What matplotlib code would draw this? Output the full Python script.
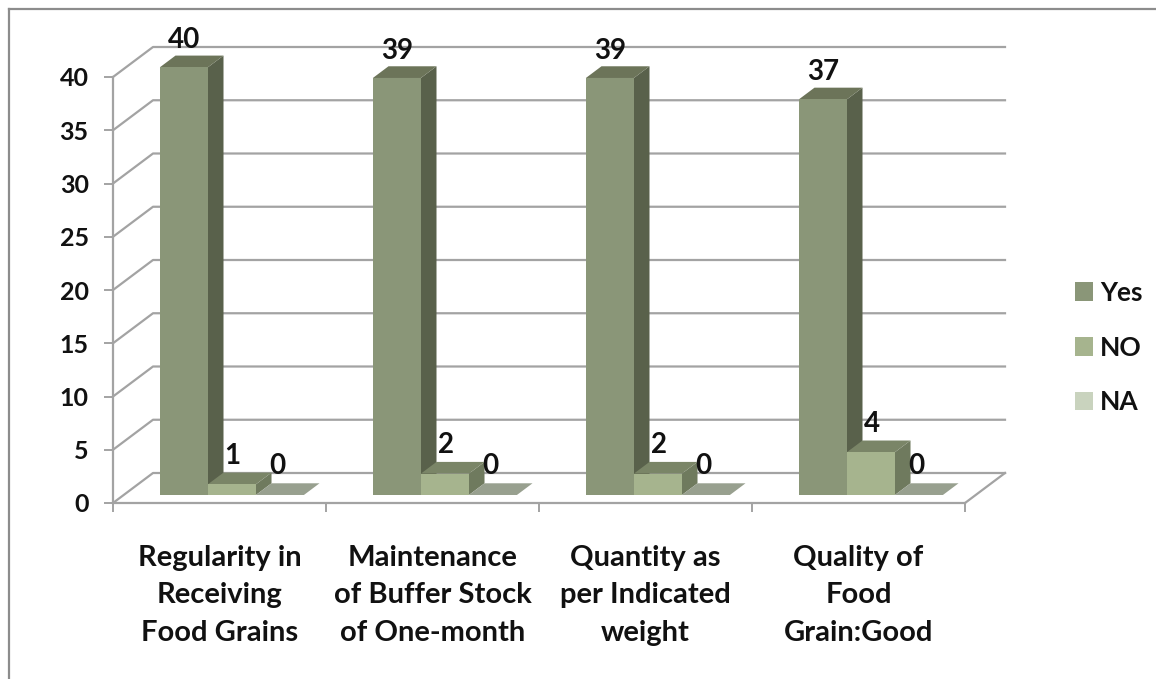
import matplotlib
matplotlib.use('Agg')
import matplotlib.pyplot as plt
from matplotlib.lines import Line2D
from matplotlib.patches import Patch, Polygon

categories = ['Regularity in\nReceiving\nFood Grains', 'Maintenance\nof Buffer Stock\nof One-month',
              'Quantity as\nper Indicated\nweight', 'Quality of\nFood\nGrain:Good']
yes_values = [40, 39, 39, 37]
no_values = [1, 2, 2, 4]
na_values = [0, 0, 0, 0]
y_ticks = [0, 5, 10, 15, 20, 25, 30, 35, 40]

series = [('Yes', yes_values, '#8A9678', '#59614B', '#6C7459'),
          ('NO', no_values, '#A6B48E', '#6F7A5E', '#7A8567'),
          ('NA', na_values, '#C9D3BE', '#98A08F', '#98A08F')]
label_shift = [-15, -15, -18]

W, H = 1156, 679
plt.rcParams['font.family'] = ['Lato', 'DejaVu Sans']
fig = plt.figure(figsize=(W / 100, H / 100), dpi=100)
ax = fig.add_axes([113 / W, 1 - 503 / H, 852 / W, 426 / H])
ax.set_xlim(0, 4)
ax.set_ylim(0, 40)

# depth of the fake 3d box, in data units
wall_dx = 40 / 213
wall_dy = 30 / 10.65
bar_front = 0.267
bar_back = 0.657
bar_gap = 0.17
bar_width = 0.2254
bar_scale = 1.004
grid_color = '#A3A3A3'


def project(x, y, d):
    return (x + d * wall_dx, y + d * wall_dy)


# Walls and gridlines
for v in y_ticks:
    pts = [project(0, v, 0), project(0, v, 1), project(4, v, 1)]
    ax.add_line(Line2D(*zip(*pts), color=grid_color, lw=1.6, zorder=1, clip_on=False))
ax.add_line(Line2D(*zip(project(4, 0, 0), project(4, 0, 1)), color=grid_color, lw=1.6, zorder=1, clip_on=False))


def draw_bar(x, v, front, side, top):
    h = v * bar_scale
    poly_front = [project(x, 0, bar_front), project(x + bar_width, 0, bar_front),
                  project(x + bar_width, h, bar_front), project(x, h, bar_front)]
    poly_side = [project(x + bar_width, 0, bar_front), project(x + bar_width, 0, bar_back),
                 project(x + bar_width, h, bar_back), project(x + bar_width, h, bar_front)]
    poly_top = [project(x, h, bar_front), project(x + bar_width, h, bar_front),
                project(x + bar_width, h, bar_back), project(x, h, bar_back)]
    for pts, c in ((poly_side, side), (poly_top, top)):
        ax.add_patch(Polygon(pts, closed=True, fc=c, ec='none', zorder=3, clip_on=False))
    if v > 0:
        ax.add_patch(Polygon(poly_front, closed=True, fc=front, ec='none', zorder=3, clip_on=False))


for s, (name, values, front, side, top) in enumerate(series):
    for c, v in enumerate(values):
        x = c + bar_gap + s * bar_width
        draw_bar(x, v, front, side, top)
        lx, ly = project(x + bar_width / 2, v, bar_back)
        ax.annotate(str(v), xy=(lx, ly), xytext=(label_shift[s], 17), textcoords='offset pixels',
                    ha='center', va='center', fontsize=20, fontweight='bold', color='#111111',
                    zorder=5, annotation_clip=False)

# Axes
for sp in ('top', 'right'):
    ax.spines[sp].set_visible(False)
for sp in ('left', 'bottom'):
    ax.spines[sp].set_color(grid_color)
    ax.spines[sp].set_linewidth(1.6)
    ax.spines[sp].set_zorder(2)
ax.set_yticks(y_ticks)
ax.set_yticklabels([str(t) for t in y_ticks], fontweight='bold')
ax.set_xticks([0, 1, 2, 3, 4])
ax.set_xticklabels([])
ax.set_xticks([0.5, 1.5, 2.5, 3.5], minor=True)
ax.set_xticklabels(categories, minor=True, fontsize=21, fontweight='bold', linespacing=1.55, color='#111111')
ax.tick_params(axis='both', which='major', length=6.5, width=1.4, color=grid_color, labelsize=18, pad=11,
               labelcolor='#111111')
ax.tick_params(axis='x', which='minor', length=0, pad=30)
ax.patch.set_visible(False)

handles = [Patch(fc=s[2], ec='none', label=s[0]) for s in series]
leg = ax.legend(handles=handles, loc='center left', bbox_to_anchor=(1075 / W, 1 - 347.5 / H),
                bbox_transform=fig.transFigure, frameon=False, handlelength=0.68, handleheight=0.7,
                handletextpad=0.28, labelspacing=1.16, borderpad=0, borderaxespad=0,
                prop={'size': 19, 'weight': 'bold'})
for t in leg.get_texts():
    t.set_color('#111111')

# Picture border
for xs, ys in (([9, 1156], [9, 9]), ([9, 9], [9, 679])):
    fig.add_artist(Line2D([x / W for x in xs], [1 - y / H for y in ys], color='#8C8C8C', lw=1.6))

fig.savefig('out.png', dpi=100)
